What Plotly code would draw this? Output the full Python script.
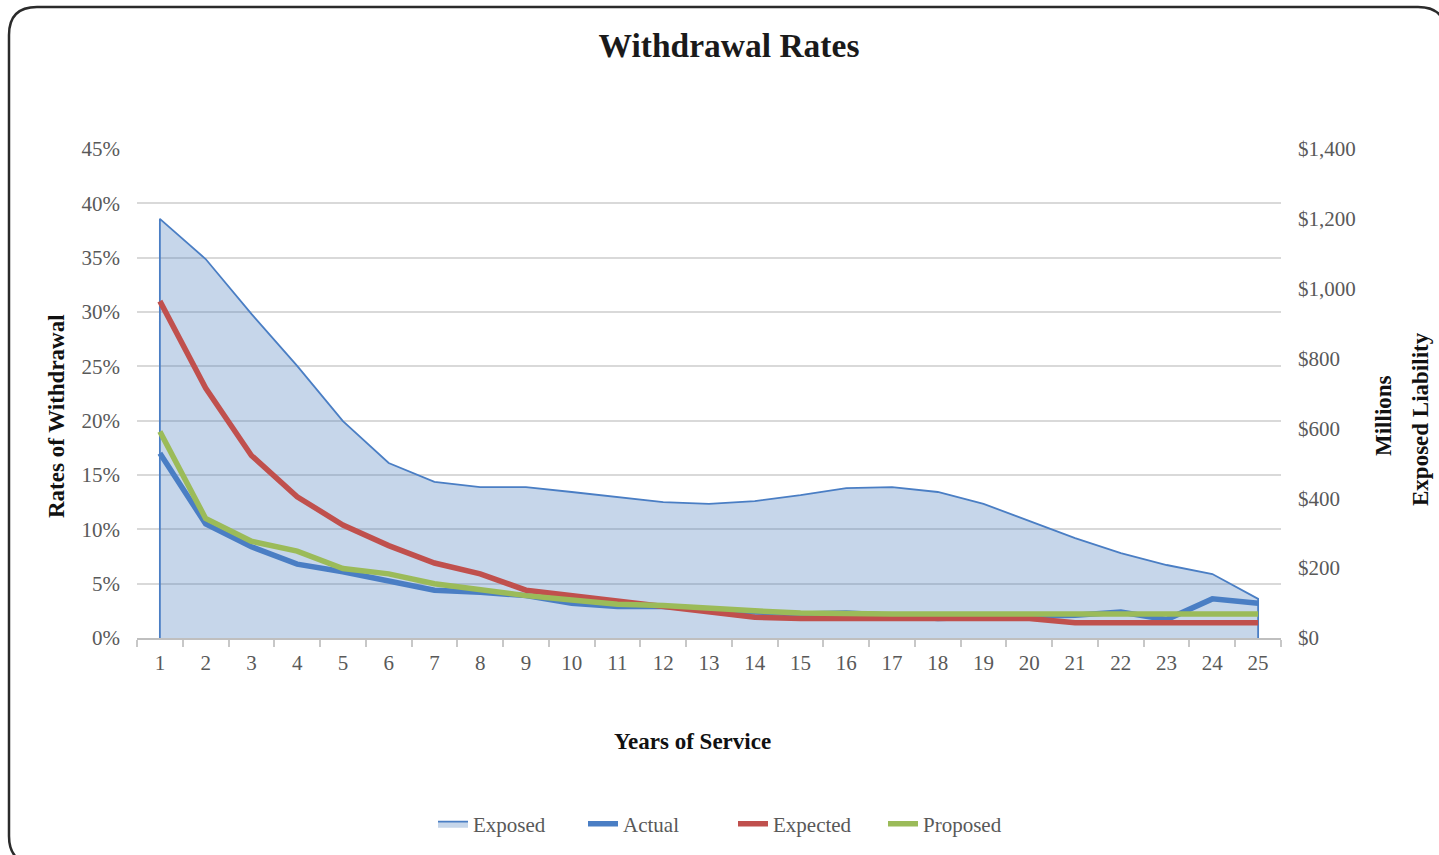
import plotly.graph_objects as go

years = list(range(1, 26))
exposed = [1200, 1085, 928, 779, 621, 501, 447, 432, 432, 418, 404, 389, 384, 392, 409,
           429, 432, 418, 384, 335, 286, 243, 209, 183, 112]
actual = [17.0, 10.5, 8.4, 6.8, 6.1, 5.3, 4.4, 4.2, 3.9, 3.2, 2.9, 2.9, 2.6, 2.4, 2.2,
          2.3, 2.1, 1.8, 1.9, 2.0, 2.1, 2.4, 1.7, 3.6, 3.2]
expected = [31.0, 23.0, 16.8, 13.0, 10.4, 8.5, 6.9, 5.9, 4.4, 3.9, 3.5, 3.0, 2.5, 1.9, 1.8,
            1.8, 1.8, 1.8, 1.8, 1.8, 1.4, 1.4, 1.4, 1.4, 1.4]
proposed = [19.0, 11.0, 8.9, 8.0, 6.4, 5.9, 5.0, 4.4, 3.9, 3.5, 3.1, 3.0, 2.7, 2.5, 2.3,
            2.2, 2.2, 2.2, 2.2, 2.2, 2.2, 2.2, 2.2, 2.2, 2.2]

pct_ticks = [0, 5, 10, 15, 20, 25, 30, 35, 40, 45]
pct_labels = [f"{v}%" for v in pct_ticks]
usd_ticks = [0, 200, 400, 600, 800, 1000, 1200, 1400]
usd_labels = [f"${v:,}" for v in usd_ticks]

FONT = "Liberation Serif, Times New Roman, serif"
GRAY = "#595959"

W, H = 1439, 855
L, R, T, B = 137, 158, 149, 217
PW, PH = W - L - R, H - T - B


def px(x):
    return (x - L) / PW


def py(y):
    return (H - B - y) / PH


fig = go.Figure()

# Exposed area on the $ axis (primary, drawn first / underneath)
ex_x = [years[0]] + years + [years[-1]]
ex_y = [0] + exposed + [0]
fig.add_trace(go.Scatter(
    x=ex_x, y=ex_y, yaxis="y", name="Exposed", mode="lines",
    line=dict(color="#4A7EC4", width=1.8), fill="tozeroy",
    fillcolor="rgba(79,129,189,0.32)", hoverinfo="skip"))
# rate lines on the % axis (overlaying, drawn on top)
fig.add_trace(go.Scatter(x=years, y=actual, yaxis="y2", name="Actual", mode="lines",
                         line=dict(color="#4A7EC4", width=5.5)))
fig.add_trace(go.Scatter(x=years, y=expected, yaxis="y2", name="Expected", mode="lines",
                         line=dict(color="#C0504D", width=5.5)))
fig.add_trace(go.Scatter(x=years, y=proposed, yaxis="y2", name="Proposed", mode="lines",
                         line=dict(color="#9BBB59", width=5.5)))

# rounded outer border
x0, x1, y0, y1, r = 9, 1446, 7, 864, 28
pts = [("M", x0 + r, y0), ("L", x1 - r, y0), ("Q", x1, y0, x1, y0 + r),
       ("L", x1, y1 - r), ("Q", x1, y1, x1 - r, y1), ("L", x0 + r, y1),
       ("Q", x0, y1, x0, y1 - r), ("L", x0, y0 + r), ("Q", x0, y0, x0 + r, y0)]
path = ""
for p in pts:
    cmd = p[0]
    coords = p[1:]
    segs = []
    for i in range(0, len(coords), 2):
        segs.append(f"{px(coords[i]):.5f},{py(coords[i+1]):.5f}")
    path += cmd + " ".join(segs) + " "
path += "Z"

fig.update_layout(
    width=W, height=H,
    margin=dict(l=L, r=R, t=T, b=B, autoexpand=False),
    paper_bgcolor="white", plot_bgcolor="white",
    font=dict(family=FONT, color=GRAY, size=21),
    title=dict(text="<b>Withdrawal Rates</b>", x=729 / W, xanchor="center",
               y=1 - 45 / H, yanchor="middle", yref="container",
               font=dict(family=FONT, size=33.5, color="#1a1a1a")),
    xaxis=dict(range=[0.5, 25.5], tickmode="array", tickvals=years,
               ticktext=[str(y) for y in years], ticks="", showgrid=False,
               showline=True, linecolor="#BFBFBF", linewidth=1.5,
               zeroline=False, ticklabelstandoff=5,
               tickfont=dict(family=FONT, size=21, color=GRAY),
               minor=dict(ticks="outside", tick0=0.5, dtick=1, ticklen=7,
                          tickwidth=1.5, tickcolor="#C8C8C8", showgrid=False)),
    yaxis=dict(range=[0, 1400], side="right", tickmode="array",
               tickvals=usd_ticks, ticktext=usd_labels, showgrid=False,
               zeroline=False, showline=False, ticks="", ticklabelstandoff=16,
               tickfont=dict(family=FONT, size=21, color=GRAY)),
    yaxis2=dict(range=[0, 45], overlaying="y", side="left", tickmode="array",
                tickvals=pct_ticks, ticktext=pct_labels, showgrid=True,
                gridcolor="#D9D9D9", gridwidth=1.5, zeroline=False,
                showline=False, ticks="", ticklabelstandoff=16,
                tickfont=dict(family=FONT, size=21, color=GRAY)),
    showlegend=True,
    legend=dict(orientation="h", x=px(733), xanchor="center", y=py(824),
                yanchor="middle", font=dict(family=FONT, size=21, color=GRAY),
                bgcolor="rgba(0,0,0,0)", traceorder="normal",
                entrywidth=105, entrywidthmode="pixels"),
    shapes=[dict(type="path", xref="paper", yref="paper", path=path,
                 line=dict(color="#2b2b2b", width=2.5), fillcolor="rgba(0,0,0,0)",
                 layer="above")],
    annotations=[
        dict(text="<b>Rates of Withdrawal</b>", xref="paper", yref="paper",
             x=px(56), y=py(416), textangle=-90, showarrow=False,
             xanchor="center", yanchor="middle",
             font=dict(family=FONT, size=23, color="#111111")),
        dict(text="<b>Years of Service</b>", xref="paper", yref="paper",
             x=px(692), y=py(741), showarrow=False, xanchor="center",
             yanchor="middle", font=dict(family=FONT, size=23, color="#111111")),
        dict(text="<b>Millions</b>", xref="paper", yref="paper",
             x=px(1383), y=py(416), textangle=-90, showarrow=False,
             xanchor="center", yanchor="middle",
             font=dict(family=FONT, size=23, color="#111111")),
        dict(text="<b>Exposed Liability</b>", xref="paper", yref="paper",
             x=px(1421), y=py(419), textangle=-90, showarrow=False,
             xanchor="center", yanchor="middle",
             font=dict(family=FONT, size=23, color="#111111")),
    ],
)

fig.write_html("out.html", config={"displayModeBar": False},
               post_script="document.body.style.margin='0px';document.body.style.overflow='hidden';")
